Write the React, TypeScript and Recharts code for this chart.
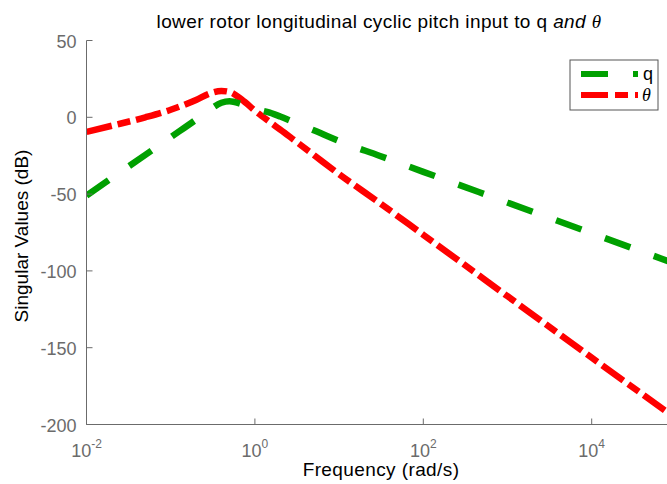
import { LineChart, Line, XAxis, YAxis } from 'recharts';

// frequency grid (rad/s) and singular values (dB)
const freq = [0.01, 0.02, 0.05, 0.1, 0.2, 0.3, 0.4, 0.5, 0.7, 1, 1.5, 2, 3, 5, 10, 30, 100, 1000, 10000, 100000];
const qDb = [-51, -39.5, -24.5, -13, -1.5, 5.5, 9.5, 10.5, 8.5, 5.5, 3, 0.5, -3.5, -8.5, -15.5, -25, -35.5, -55.5, -75.5, -95.5];
const thetaDb = [-9.5, -5.5, 0, 4.9, 11.3, 15.8, 17.2, 16.5, 11.5, 4.3, -3, -8, -15.3, -24.5, -37, -55.6, -76.5, -116.5, -156.5, -196];

const xTicks = [0.01, 1, 100, 10000];
const yTicks = [-200, -150, -100, -50, 0, 50];

const data = freq.map((f, i) => ({ f, q: qDb[i], theta: thetaDb[i] }));

const AXIS = '#6b6b6b';
const FONT = '"Liberation Sans", Arial, Helvetica, sans-serif';
const SERIF = '"Liberation Serif", "DejaVu Serif", serif';
const GREEN = '#00a000';
const RED = '#ff0000';

// MATLAB-style ticks point into the plot box
const BottomTick = (props: any) => {
  const { x, y, payload } = props;
  const exp = Math.round(Math.log10(payload.value));
  return (
    <g>
      <line x1={x} y1={y} x2={x} y2={y - 6} stroke={AXIS} strokeWidth={1} />
      <text x={x} y={y + 32} textAnchor="middle" fill={AXIS} fontSize={18} fontFamily={FONT}>
        10<tspan dy={-9} fontSize={12}>{exp}</tspan>
      </text>
    </g>
  );
};

const TopTick = (props: any) => {
  const { x, y } = props;
  return <line x1={x} y1={y} x2={x} y2={y + 6} stroke={AXIS} strokeWidth={1} />;
};

const LeftTick = (props: any) => {
  const { x, y, payload } = props;
  return (
    <g>
      <line x1={x} y1={y} x2={x + 6} y2={y} stroke={AXIS} strokeWidth={1} />
      <text x={x - 10} y={y + 7} textAnchor="end" fill={AXIS} fontSize={18} fontFamily={FONT}>
        {payload.value}
      </text>
    </g>
  );
};

const XLabel = () => (
  <text x={381} y={476} textAnchor="middle" fill="#000" fontSize={19} fontFamily={FONT} letterSpacing={0.4}>
    Frequency (rad/s)
  </text>
);

const YLabel = () => (
  <text
    x={28}
    y={236}
    transform="rotate(-90 28 236)"
    textAnchor="middle"
    fill="#000"
    fontSize={19}
    fontFamily={FONT}
  >
    Singular Values (dB)
  </text>
);

export default function App() {
  return (
    <div
      style={{
        position: 'fixed',
        left: 0,
        top: 0,
        width: 667,
        height: 484,
        overflow: 'hidden',
        background: '#fff',
        fontFamily: FONT,
      }}
    >
      <LineChart width={700} height={484} data={data} margin={{ top: 40.5, right: 24.1, bottom: 0, left: 0 }}>
        <XAxis
          dataKey="f"
          type="number"
          scale="log"
          domain={[0.01, 100000]}
          ticks={xTicks}
          interval={0}
          allowDataOverflow
          height={59.5}
          tickSize={0}
          tickMargin={0}
          tickLine={false}
          axisLine={{ stroke: AXIS, strokeWidth: 1 }}
          tick={<BottomTick />}
          label={{ content: XLabel }}
        />
        <XAxis
          xAxisId="top"
          orientation="top"
          dataKey="f"
          type="number"
          scale="log"
          domain={[0.01, 100000]}
          ticks={xTicks}
          interval={0}
          allowDataOverflow
          height={0}
          tickSize={0}
          tickMargin={0}
          tickLine={false}
          axisLine={{ stroke: AXIS, strokeWidth: 1 }}
          tick={<TopTick />}
        />
        <YAxis
          type="number"
          domain={[-200, 50]}
          ticks={yTicks}
          interval={0}
          allowDataOverflow
          width={86.5}
          tickSize={0}
          tickMargin={0}
          tickLine={false}
          axisLine={{ stroke: AXIS, strokeWidth: 1 }}
          tick={<LeftTick />}
          label={{ content: YLabel }}
        />
        <Line
          type="monotone"
          dataKey="theta"
          stroke={RED}
          strokeWidth={6.5}
          strokeDasharray="26 6 13 6"
          dot={false}
          activeDot={false}
          isAnimationActive={false}
        />
        <Line
          type="monotone"
          dataKey="q"
          stroke={GREEN}
          strokeWidth={6.5}
          strokeDasharray="27 25"
          dot={false}
          activeDot={false}
          isAnimationActive={false}
        />
      </LineChart>

      {/* title */}
      <svg width={667} height={38} style={{ position: 'absolute', left: 0, top: 0 }}>
        <text x={379} y={28} textAnchor="middle" fill="#000" fontSize={19} fontFamily={FONT} letterSpacing={0.4}>
          lower rotor longitudinal cyclic pitch input to q{' '}
          <tspan fontStyle="italic">and</tspan>{' '}
          <tspan fontStyle="italic" fontFamily={SERIF}>θ</tspan>
        </text>
      </svg>

      {/* legend box, top right inside the axes */}
      <svg width={90} height={52} style={{ position: 'absolute', left: 568.5, top: 58.5 }}>
        <rect x={1} y={1} width={88} height={50} fill="#fff" stroke="#555" strokeWidth={1} />
        <line x1={12} y1={15} x2={69} y2={15} stroke={GREEN} strokeWidth={6} strokeDasharray="27 25" />
        <text x={74} y={21} fill="#000" fontSize={18} fontFamily={FONT}>q</text>
        <line x1={12} y1={36} x2={69} y2={36} stroke={RED} strokeWidth={6} strokeDasharray="27 7 13 7" />
        <text x={73} y={42} fill="#000" fontSize={18} fontStyle="italic" fontFamily={SERIF}>θ</text>
      </svg>
    </div>
  );
}
